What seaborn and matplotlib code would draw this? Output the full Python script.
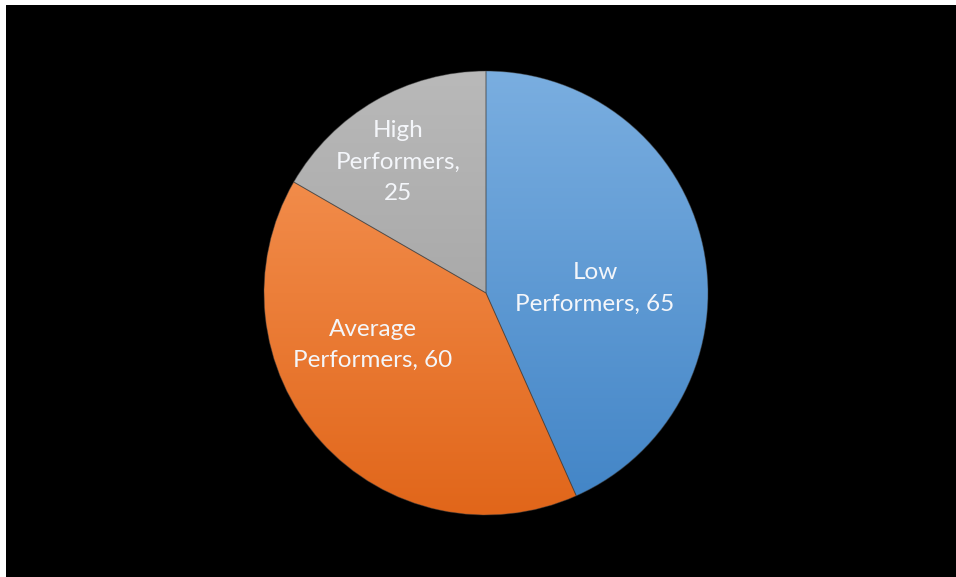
import numpy as np
import matplotlib
matplotlib.use("Agg")
import matplotlib.pyplot as plt
import seaborn as sns

# Data
categories = ["Low\nPerformers", "Average\nPerformers", "High\nPerformers"]
values = [65, 60, 25]
label_texts = ["Low\nPerformers, 65", "Average\nPerformers, 60", "High\nPerformers,\n25"]

# Vertical gradient (top, bottom) for each slice
slice_gradients = [("#7aaee0", "#4184c6"), ("#f7985a", "#e1661a"), ("#b9b9b9", "#9a9a9a")]

sns.set_theme(style="dark")
plt.rcParams["font.family"] = ["Lato", "DejaVu Sans"]

W, H = 956, 577
fig = plt.figure(figsize=(W / 100, H / 100), dpi=100)
fig.patch.set_facecolor("white")

left_px, top_px = 6, 5
ax = fig.add_axes([left_px / W, 0, (W - left_px) / W, (H - top_px) / H])
ax.set_facecolor("black")

cx, cy, R = 486, 293, 222  # pixel centre and radius
xlim = ((left_px - cx) / R, (W - cx) / R)
ylim = (-(H - cy) / R, (cy - top_px) / R)

ax.add_patch(plt.Rectangle((0, 0), 1, 1, transform=ax.transAxes, color="black", zorder=0))

wedges, _ = ax.pie(values, startangle=90, counterclock=False, radius=1.0,
                   center=(0, 0), frame=True,
                   wedgeprops=dict(linewidth=0.7, edgecolor=(0.25, 0.25, 0.25, 0.45)))

for wedge, (top_c, bot_c) in zip(wedges, slice_gradients):
    cmap = sns.blend_palette([bot_c, top_c], as_cmap=True)
    grad = np.linspace(0, 1, 256).reshape(-1, 1)
    im = ax.imshow(grad, cmap=cmap, origin="lower", extent=(-1, 1, -1, 1),
                   aspect="auto", zorder=1, interpolation="bilinear")
    im.set_clip_path(wedge)
    wedge.set_facecolor("none")
    wedge.set_zorder(2)

ax.set_xlim(*xlim)
ax.set_ylim(*ylim)
ax.set_aspect("auto")
ax.axis("off")

# Label positions (fractions of radius from the pie centre)
label_pos = [(0.491, 0.022), (-0.509, -0.234), (-0.396, 0.590)]
for txt, (lx, ly) in zip(label_texts, label_pos):
    ax.text(lx, ly, txt, color="#f4f6fa", fontsize=17.5, ha="center", va="center",
            linespacing=1.62, zorder=3)

fig.savefig("out.png", dpi=100, facecolor=fig.get_facecolor())
